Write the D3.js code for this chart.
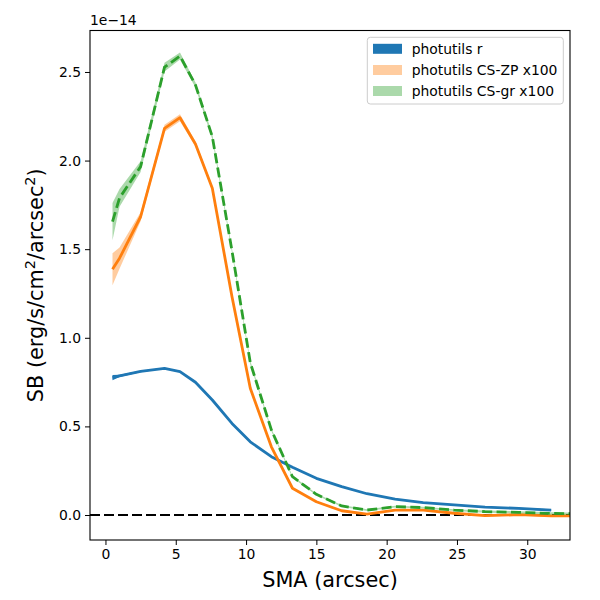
<!DOCTYPE html>
<html><head><meta charset="utf-8">
<script src="https://cdn.jsdelivr.net/npm/d3@7"></script>
<style>body{margin:0;background:#fff}svg{font-family:"DejaVu Sans",sans-serif}</style>
</head><body>
<script>
const sma = [0.5, 1.0, 2.5, 4.2, 5.3, 6.4, 7.6, 9.0, 10.3, 11.8, 13.3, 15.0, 16.8, 18.6, 20.6, 22.6, 24.8, 27.0, 29.4, 31.7, 34.2];
const rSB = [0.775, 0.785, 0.81, 0.828, 0.809, 0.749, 0.649, 0.517, 0.413, 0.329, 0.27, 0.207, 0.16, 0.12, 0.09, 0.07, 0.057, 0.045, 0.037, 0.027];
const rErr = [0.015, 0.006, 0.004, 0.003, 0.003, 0.003, 0.003, 0.002, 0.002, 0.002, 0.002, 0.002, 0.002, 0.002, 0.002, 0.002, 0.002, 0.003, 0.004, 0.005];
const zpSB = [1.387, 1.449, 1.683, 2.182, 2.242, 2.094, 1.844, 1.232, 0.715, 0.385, 0.151, 0.075, 0.024, 0.005, 0.028, 0.028, 0.01, -0.004, 0.002, -0.005, -0.005];
const zpErr = [0.09, 0.06, 0.025, 0.02, 0.02, 0.015, 0.012, 0.01, 0.008, 0.006, 0.005, 0.004, 0.004, 0.004, 0.004, 0.004, 0.004, 0.005, 0.005, 0.006, 0.006];
const grSB = [1.655, 1.789, 1.966, 2.527, 2.59, 2.427, 2.135, 1.49, 0.86, 0.48, 0.216, 0.117, 0.051, 0.028, 0.047, 0.042, 0.028, 0.019, 0.015, 0.009, 0.006];
const grErr = [0.105, 0.05, 0.03, 0.025, 0.02, 0.015, 0.015, 0.012, 0.01, 0.008, 0.006, 0.005, 0.005, 0.005, 0.005, 0.005, 0.005, 0.006, 0.006, 0.007, 0.007];
const xTicks = [0, 5, 10, 15, 20, 25, 30];
const yTicks = [0.0, 0.5, 1.0, 1.5, 2.0, 2.5];
const legendLabels = ["photutils r", "photutils CS-ZP x100", "photutils CS-gr x100"];

const W = 600, H = 600;
const L = 90, R = 570, T = 30.5, B = 540;
const svg = d3.select("body").append("svg").attr("width", W).attr("height", H);
const x = d3.scaleLinear().domain([-1.1, 33.04]).range([L, R]);
const y = d3.scaleLinear().domain([-0.141, 2.734]).range([B, T]);

svg.append("clipPath").attr("id", "clip").append("rect")
  .attr("x", L).attr("y", T).attr("width", R - L).attr("height", B - T);
const g = svg.append("g").attr("clip-path", "url(#clip)");

function series(vals, errs) {
  return vals.map((v, i) => ({ x: sma[i], v: v, e: errs[i] }));
}
const sets = [
  { d: series(rSB, rErr), color: "#1f77b4", fill: "#1f77b4", fo: 1, dash: null },
  { d: series(zpSB, zpErr), color: "#ff7f0e", fill: "#ff7f0e", fo: 0.4, dash: null },
  { d: series(grSB, grErr), color: "#2ca02c", fill: "#2ca02c", fo: 0.4, dash: "10,4.4" }
];
const area = d3.area().x(d => x(d.x)).y0(d => y(d.v - d.e)).y1(d => y(d.v + d.e));
const line = d3.line().x(d => x(d.x)).y(d => y(d.v));

// zero line
g.append("line").attr("x1", L).attr("x2", R).attr("y1", y(0)).attr("y2", y(0))
  .attr("stroke", "#000").attr("stroke-width", 2).attr("stroke-dasharray", "10,4");

sets.forEach(s => {
  g.append("path").attr("d", area(s.d)).attr("fill", s.fill).attr("fill-opacity", s.fo).attr("stroke", "none");
  const p = g.append("path").attr("d", line(s.d)).attr("fill", "none")
    .attr("stroke", s.color).attr("stroke-width", 2.8).attr("stroke-linejoin", "round");
  if (s.dash) p.attr("stroke-dasharray", s.dash);
});

// axes
const xa = svg.append("g").attr("transform", `translate(0,${B})`)
  .call(d3.axisBottom(x).tickValues(xTicks).tickFormat(d3.format("d")).tickSize(5).tickPadding(4));
const ya = svg.append("g").attr("transform", `translate(${L},0)`)
  .call(d3.axisLeft(y).tickValues(yTicks).tickFormat(d3.format(".1f")).tickSize(5).tickPadding(4));
[xa, ya].forEach(a => {
  a.select(".domain").remove();
  a.selectAll("text").attr("font-size", 13.9).attr("fill", "#000").attr("font-family", "DejaVu Sans");
  a.selectAll("line").attr("stroke", "#000").attr("stroke-width", 1);
});
svg.append("rect").attr("x", L).attr("y", T).attr("width", R - L).attr("height", B - T)
  .attr("fill", "none").attr("stroke", "#000").attr("stroke-width", 1.1);

svg.append("text").attr("x", L).attr("y", 24.5).attr("font-size", 13.9).text("1e\u221214");

svg.append("text").attr("x", (L + R) / 2).attr("y", 587).attr("text-anchor", "middle")
  .attr("font-size", 20.8).text("SMA (arcsec)");

const yl = svg.append("text").attr("transform", `translate(43,${(T + B) / 2}) rotate(-90)`)
  .attr("text-anchor", "middle").attr("font-size", 20.8);
yl.append("tspan").text("SB (erg/s/cm");
yl.append("tspan").attr("font-size", 14.5).attr("dy", -8).text("2");
yl.append("tspan").attr("dy", 8).text("/arcsec");
yl.append("tspan").attr("font-size", 14.5).attr("dy", -8).text("2");
yl.append("tspan").attr("dy", 8).text(")");

// legend
const lg = svg.append("g");
lg.append("rect").attr("x", 367.3).attr("y", 37.3).attr("width", 196).attr("height", 66.7)
  .attr("rx", 3).attr("fill", "#fff").attr("fill-opacity", 0.8).attr("stroke", "#ccc").attr("stroke-width", 1);
const lfills = [{ c: "#1f77b4", o: 1 }, { c: "#ff7f0e", o: 0.4 }, { c: "#2ca02c", o: 0.4 }];
const rowY = [48.8, 70, 91];
legendLabels.forEach((t, i) => {
  lg.append("rect").attr("x", 373).attr("y", rowY[i] - 5).attr("width", 29).attr("height", 10)
    .attr("fill", lfills[i].c).attr("fill-opacity", lfills[i].o);
  lg.append("text").attr("x", 411.7).attr("y", rowY[i] + 5).attr("font-size", 13.9).text(t);
});
</script>
</body></html>
